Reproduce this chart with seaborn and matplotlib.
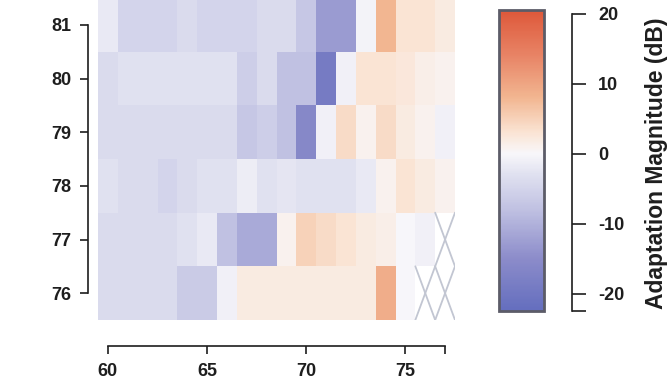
import numpy as np
import pandas as pd
import matplotlib
matplotlib.use('Agg')
import matplotlib.pyplot as plt
from matplotlib.colors import LinearSegmentedColormap
import seaborn as sns

sns.set_style('white')
plt.rcParams['font.family'] = ['Liberation Sans', 'DejaVu Sans']
plt.rcParams['font.weight'] = 'bold'

# frequency columns (x) and level rows (y, top to bottom)
freqs = list(range(60, 78))
levels = [81, 80, 79, 78, 77, 76]
nan = np.nan

# adaptation magnitude (dB)
r81 = [-2, -5, -5, -5, -4, -5, -5, -5, -4, -4, -7, -13, -13, -0.5, 8, 3, 3, 2]
r80 = [-4, -3, -3, -3, -3, -3, -3, -6, -4, -8, -8, -19, -1, 3, 3, 2.5, 1.5, 1]
r79 = [-4, -4, -4, -4, -4, -4, -4, -7, -6, -8, -16, -1, 4, 1, 4, 2, 1, -1]
r78 = [-3, -4, -4, -5, -4, -3, -3, -1.5, -3, -2.5, -3, -3, -3, -2, 1, 3, 2, 1]
r77 = [-4, -4, -4, -4, -3, -2, -8, -11, -11, 1, 5, 4, 3, 2, 1.5, 0, -1, nan]
r76 = [-4, -4, -4, -4, -6.5, -6.5, -1, 2, 2, 2, 2, 2, 2, 2, 9, 0, nan, nan]

xticks = [60, 65, 70, 75, 77]
xlabels = ['60', '65', '70', '75', '']
cb_ticks = [-20, -10, 0, 10, 20]

VMIN, VMAX = -22.5, 20.5

df = pd.DataFrame([r81, r80, r79, r78, r77, r76], index=levels, columns=freqs)

nodes = [(-22.5, (100, 110, 190)), (-15, (140, 140, 202)), (-8, (192, 193, 226)),
         (-3, (224, 225, 240)), (0, (248, 247, 250)), (3, (250, 228, 212)),
         (8, (242, 182, 145)), (14, (232, 132, 102)), (20.5, (222, 88, 58))]
cmap = LinearSegmentedColormap.from_list(
    'adapt', [((v - VMIN) / (VMAX - VMIN), tuple(c / 255 for c in rgb)) for v, rgb in nodes])

fig = plt.figure(figsize=(6.69, 3.82), dpi=100)
ax = fig.add_axes([98 / 669, 1 - 320 / 382, 357 / 669, 322 / 382])
cax = fig.add_axes([499 / 669, 1 - 311 / 382, 45 / 669, 301 / 382])

sns.heatmap(df, ax=ax, cbar_ax=cax, cmap=cmap, vmin=VMIN, vmax=VMAX, linewidths=0)

# crossed-out cells where there is no data
vals = df.values
for i in range(vals.shape[0]):
    for j in range(vals.shape[1]):
        if np.isnan(vals[i, j]):
            ax.plot([j, j + 1], [i, i + 1], color='#c2c6d2', lw=1.3)
            ax.plot([j, j + 1], [i + 1, i], color='#c2c6d2', lw=1.3)

ink = '#1e1e1e'
for side, off, bounds in [('left', 7, (0.5, len(levels) - 0.5)),
                          ('bottom', 19, (0.5, freqs.index(77) + 0.5))]:
    sp = ax.spines[side]
    sp.set_visible(True)
    sp.set_position(('outward', off))
    sp.set_bounds(*bounds)
    sp.set_linewidth(1.2)
    sp.set_color(ink)

ax.set_yticks([i + 0.5 for i in range(len(levels))])
ax.set_yticklabels([str(l) for l in levels], rotation=0)
ax.set_xticks([freqs.index(t) + 0.5 for t in xticks])
ax.set_xticklabels(xlabels, rotation=0)
ax.tick_params(left=True, bottom=True, direction='out', length=6, width=1.2,
               color=ink, labelcolor=ink, labelsize=13, pad=6)
ax.set_xlabel('')
ax.set_ylabel('')

cbar = ax.collections[0].colorbar
cbar.outline.set_edgecolor('#5c5c68')
cbar.outline.set_linewidth(2)
cbar.set_ticks([VMIN + 0.01] + cb_ticks)
cbar.set_ticklabels([''] + [str(t) for t in cb_ticks])
rs = cax.spines['right']
rs.set_visible(True)
rs.set_position(('outward', 20))
rs.set_bounds(VMIN + 0.01, 20)
rs.set_linewidth(1.2)
rs.set_color(ink)
cax.tick_params(right=True, direction='out', length=10, width=1.2, color=ink,
                labelcolor=ink, labelsize=13, pad=9)

fig.text(657 / 669, 1 - 163 / 382, 'Adaptation Magnitude (dB)', rotation=90,
         ha='center', va='center', fontsize=16.5, fontweight='bold', color=ink)

fig.savefig('out.png', dpi=100)
